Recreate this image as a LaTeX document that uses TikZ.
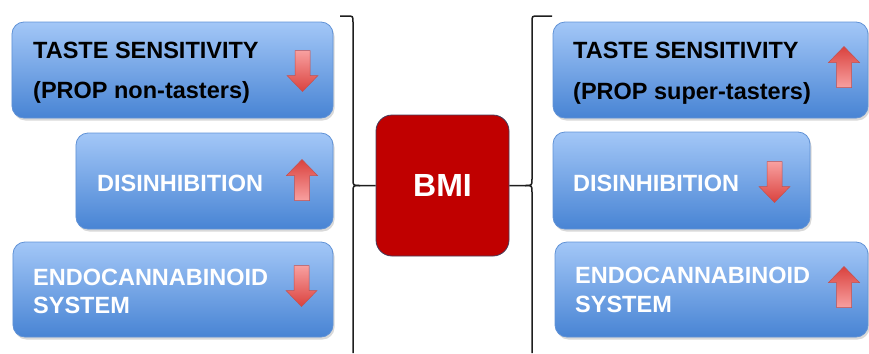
\documentclass[tikz,border=0pt]{standalone}
\usepackage{fontspec}
\setmainfont{Liberation Sans}
\usetikzlibrary{shadows}
\definecolor{boxtop}{RGB}{163,199,247}
\definecolor{boxbot}{RGB}{72,132,212}
\definecolor{boxedge}{RGB}{96,146,214}
\definecolor{bmired}{RGB}{192,0,0}
\definecolor{bmiedge}{RGB}{70,60,90}
\definecolor{arrred}{RGB}{218,66,62}
\definecolor{arrpink}{RGB}{248,160,160}
\definecolor{arredge}{RGB}{196,80,78}
\definecolor{bracecol}{RGB}{30,30,30}
\tikzset{
  factorbox/.style={rectangle, rounded corners=12bp, draw=boxedge, line width=0.8bp,
    top color=boxtop, bottom color=boxbot, inner sep=0pt,
    drop shadow={opacity=0.3, shadow xshift=1.5bp, shadow yshift=-2.5bp}},
  bmibox/.style={rectangle, rounded corners=16bp, draw=bmiedge, line width=0.8bp,
    fill=bmired, inner sep=0pt, text=white,
    font=\fontsize{32bp}{36bp}\selectfont\bfseries},
  txt/.style={anchor=base west, inner sep=0pt, font=\fontsize{23.5bp}{28bp}\selectfont\bfseries},
  darktxt/.style={txt, text=black},
  lighttxt/.style={txt, text=white},
  bracestyle/.style={draw=bracecol, line width=1.5bp},
  arrshape/.style={draw=arredge, line width=0.5bp},
  downarr/.pic={\path[arrshape, top color=arrpink, bottom color=arrred]
     (-7.5,-20.5) -- (7.5,-20.5) -- (7.5,4.5) -- (15.5,4.5) -- (0,20.5) -- (-15.5,4.5) -- (-7.5,4.5) -- cycle;},
  uparr/.pic={\path[arrshape, top color=arrred, bottom color=arrpink]
     (-7.5,20.5) -- (7.5,20.5) -- (7.5,-4.5) -- (15.5,-4.5) -- (0,-20.5) -- (-15.5,-4.5) -- (-7.5,-4.5) -- cycle;}
}
\begin{document}
\begin{tikzpicture}[x=1bp, y=-1bp]
\useasboundingbox (0,0) rectangle (869,353);
% left boxes
\node[factorbox, minimum width=321bp, minimum height=96bp] (l1) at (172.5,70) {};
\node[factorbox, minimum width=257bp, minimum height=96bp] (l2) at (204.5,181) {};
\node[factorbox, minimum width=320bp, minimum height=95bp] (l3) at (173,289.5) {};
% right boxes
\node[factorbox, minimum width=315bp, minimum height=96bp] (r1) at (710.5,70) {};
\node[factorbox, minimum width=257bp, minimum height=97bp] (r2) at (681.5,180.5) {};
\node[factorbox, minimum width=313bp, minimum height=95bp] (r3) at (711.5,289.5) {};
% BMI
\node[bmibox, minimum width=133bp, minimum height=141bp] (bmi) at (442.5,185.5) {BMI};
% texts
\node[darktxt] (l1a) at (33,58) {TASTE SENSITIVITY};
\node[darktxt] (l1b) at (33,98) {(PROP non-tasters)};
\node[lighttxt] (l2a) at (97,191) {DISINHIBITION};
\node[lighttxt] (l3a) at (33,285) {ENDOCANNABINOID};
\node[lighttxt] (l3b) at (33,313) {SYSTEM};
\node[darktxt] (r1a) at (573,58) {TASTE SENSITIVITY};
\node[darktxt] (r1b) at (573,99) {(PROP super-tasters)};
\node[lighttxt] (r2a) at (573,191) {DISINHIBITION};
\node[lighttxt] (r3a) at (575,283) {ENDOCANNABINOID};
\node[lighttxt] (r3b) at (575,312) {SYSTEM};
% arrows
\pic (al1) at (302.5,71) {downarr};
\pic (al2) at (302,180) {uparr};
\pic (al3) at (301.5,286) {downarr};
\pic (ar1) at (844,67) {uparr};
\pic (ar2) at (774.5,182) {downarr};
\pic (ar3) at (844,287) {uparr};
% braces
\coordinate (lbtop) at (340,16);
\coordinate (lbbot) at (353,353);
\coordinate (rbtop) at (552,16);
\coordinate (rbbot) at (532,353);
\draw[bracestyle] (lbtop) -- (347,16) .. controls (353,16) .. (353,22) -- (353,179)
   .. controls (353,185.5) .. (360,185.5) -- (bmi.west);
\draw[bracestyle] (lbbot) -- (353,192) .. controls (353,185.5) .. (360,185.5);
\draw[bracestyle] (rbtop) -- (538,16) .. controls (532,16) .. (532,22) -- (532,179)
   .. controls (532,185.5) .. (525,185.5) -- (bmi.east);
\draw[bracestyle] (rbbot) -- (532,192) .. controls (532,185.5) .. (525,185.5);
\end{tikzpicture}
\end{document}
